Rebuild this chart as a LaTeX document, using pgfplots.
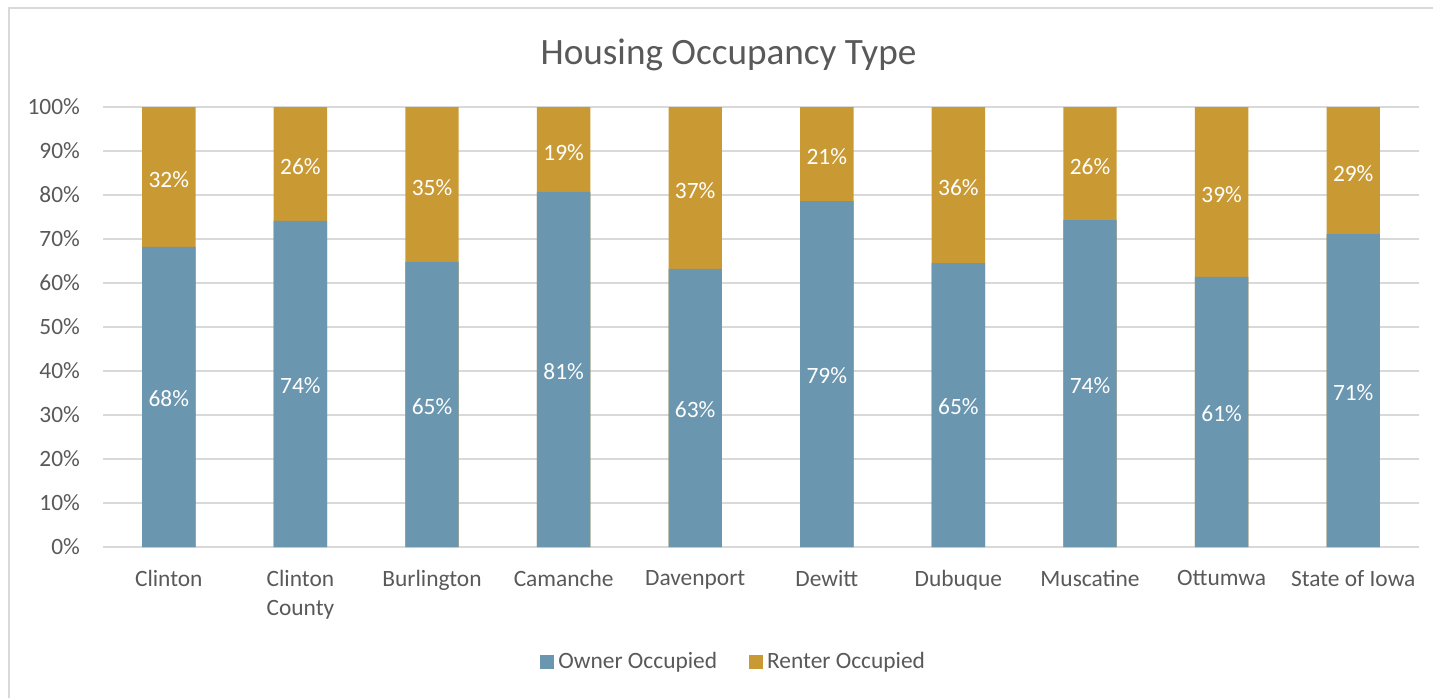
\documentclass[border=0pt]{standalone}
\usepackage{pgfplots}
\pgfplotsset{compat=1.18}
\usepackage{pgfplotstable}
\usepackage{fontspec}
\setmainfont{Carlito}
\definecolor{ownerblue}{HTML}{6A96AF}
\definecolor{rentergold}{HTML}{C99A34}
\definecolor{txtgray}{HTML}{595959}
\definecolor{gridgray}{HTML}{D9D9D9}
\pgfplotstableread{
x owner renter olab rlab
0 68.2 31.8 68 32
1 74.1 25.9 74 26
2 64.8 35.2 65 35
3 80.7 19.3 81 19
4 63.2 36.8 63 37
5 78.6 21.4 79 21
6 64.5 35.5 65 36
7 74.3 25.7 74 26
8 61.4 38.6 61 39
9 71.1 28.9 71 29
}\data
\begin{document}
\begin{tikzpicture}
\useasboundingbox (0,0) rectangle (716.5pt,-348.5pt);
\draw[gridgray, line width=0.9pt] (4.5pt,-4pt) rectangle (730pt,-360pt);
\node[text=txtgray, font=\fontsize{18.6}{22}\selectfont] at (364.25pt,-27.5pt) {Housing Occupancy Type};
\begin{axis}[
  at={(51.5pt,-273.5pt)}, anchor=south west,
  scale only axis, width=658pt, height=220pt,
  xmin=-0.5, xmax=9.5, ymin=0, ymax=100,
  axis line style={draw=none},
  major tick length=0pt,
  ymajorgrids, grid style={gridgray, line width=0.8pt},
  ytick={0,10,...,100},
  yticklabels={0\%,10\%,20\%,30\%,40\%,50\%,60\%,70\%,80\%,90\%,100\%},
  xtick={0,...,9},
  xticklabels={Clinton,Clinton\\County,Burlington,Camanche,Davenport,Dewitt,Dubuque,Muscatine,Ottumwa,State of Iowa},
  ticklabel style={text=txtgray, font=\fontsize{11.7}{14.5}\selectfont},
  xticklabel style={align=center, anchor=north, yshift=-8pt},
  yticklabel style={anchor=east, xshift=-8pt},
  legend style={at={(0.48,-0.262)}, anchor=center, draw=none, legend columns=2,
    font=\fontsize{11.7}{14}\selectfont, text=txtgray,
    /tikz/every even column/.append style={column sep=14pt},
    inner sep=0pt},
  legend image code/.code={\fill[#1] (0pt,-3.5pt) rectangle (7pt,3.5pt);},
  legend cell align=left,
]
\addlegendimage{fill=ownerblue, draw=none}
\addlegendentry{Owner Occupied}
\addlegendimage{fill=rentergold, draw=none}
\addlegendentry{Renter Occupied}
\addplot[ybar, bar width=26.7pt, bar shift=0pt, fill=rentergold, draw=none, forget plot]
  table[x=x, y expr=\thisrow{owner}+\thisrow{renter}] {\data};
\addplot[ybar, bar width=26.7pt, bar shift=0pt, fill=ownerblue, draw=none, forget plot]
  table[x=x, y=owner] {\data};
\addplot[draw=none, mark=none, forget plot, nodes near coords={\pgfplotspointmeta\%},
  point meta=explicit symbolic,
  every node near coord/.append style={anchor=center, yshift=-1pt, text=white, font=\fontsize{11.7}{14}\selectfont}]
  table[x=x, y expr=\thisrow{owner}/2, meta=olab] {\data};
\addplot[draw=none, mark=none, forget plot, nodes near coords={\pgfplotspointmeta\%},
  point meta=explicit symbolic,
  every node near coord/.append style={anchor=center, yshift=-1.5pt, text=white, font=\fontsize{11.7}{14}\selectfont}]
  table[x=x, y expr=\thisrow{owner}+\thisrow{renter}/2, meta=rlab] {\data};
\end{axis}
\end{tikzpicture}
\end{document}
